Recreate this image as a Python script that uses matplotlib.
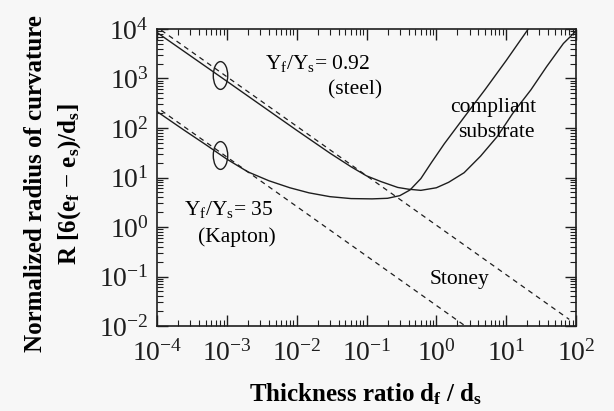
import numpy as np
import matplotlib
matplotlib.use("Agg")
import matplotlib.pyplot as plt
from matplotlib.path import Path
from matplotlib.ticker import LogLocator, NullFormatter

plt.rcParams['font.family'] = 'Liberation Serif'
plt.rcParams['mathtext.fontset'] = 'custom'
plt.rcParams['mathtext.rm'] = 'Liberation Serif'
plt.rcParams['mathtext.it'] = 'Liberation Serif:italic'
plt.rcParams['mathtext.bf'] = 'Liberation Serif:bold'

# thickness ratio d_f/d_s and normalized radius of curvature
steel_h = [1e-4, 1e-3, 1e-2, 3e-2, 6e-2, 0.1, 0.16, 0.28, 0.4, 0.6, 1.0, 1.5,
           2.5, 4.3, 7.5, 12.5, 22.6, 38, 66, 100]
steel_R = [8500, 880, 90, 31, 16.5, 10.8, 8.3, 6.3, 5.8, 5.5, 6.2, 8.0,
           12.5, 27, 68, 200, 590, 1740, 5100, 9100]

kapton_h = [1e-4, 2.4e-4, 5e-4, 1e-3, 2e-3, 4e-3, 8e-3, 1.5e-2, 3e-2, 6e-2, 0.12,
            0.2, 0.3, 0.42, 0.6, 0.85, 1.3, 2.5, 5, 10, 20.5]
kapton_R = [215, 92, 46, 23.5, 13, 8.6, 6.2, 4.9, 4.1, 3.75, 3.7,
            3.8, 4.3, 5.6, 9.5, 20, 48, 165, 600, 2300, 9800]

# Stoney lines (straight in log-log)
stoney_steel_h = [1.15e-4, 80]
stoney_steel_R = [9450, 0.0136]
stoney_kapton_h = [1.15e-4, 2.6]
stoney_kapton_R = [226, 0.0100]

# ellipse markers grouping each pair of curves
ring_h = [8.1e-4, 8.1e-4]
ring_R = [1150, 28]

fig = plt.figure(figsize=(6.14, 4.11), dpi=100, facecolor='#f7f7f7')
ax = fig.add_axes([157 / 614, 1 - 326 / 411, 419 / 614, 297 / 411])
ax.set_facecolor('#f7f7f7')

lc = '#1e1e1e'
ax.plot(steel_h, steel_R, color=lc, lw=1.0)
ax.plot(kapton_h, kapton_R, color=lc, lw=1.0)
ax.plot(stoney_steel_h, stoney_steel_R, color=lc, lw=0.9, ls=(0, (4, 3.5)))
ax.plot(stoney_kapton_h, stoney_kapton_R, color=lc, lw=0.9, ls=(0, (4, 3.5)))

circ = Path.unit_circle()
ell = Path(circ.vertices * np.array([0.52, 1.0]), circ.codes)
ax.plot(ring_h, ring_R, ls='none', marker=ell, markersize=20,
        mfc='none', mec=lc, mew=1.0)

ax.set_xscale('log')
ax.set_yscale('log')
ax.set_xlim(1e-4, 1e2)
ax.set_ylim(1e-2, 1e4)

for a in (ax.xaxis, ax.yaxis):
    a.set_major_locator(LogLocator(base=10, numticks=20))
    a.set_minor_locator(LogLocator(base=10, subs=np.arange(2, 10), numticks=20))
    a.set_minor_formatter(NullFormatter())
ax.tick_params(which='both', direction='in', top=True, right=True,
               colors=lc, labelsize=20)
ax.tick_params(which='major', length=8, width=1.0)
ax.tick_params(which='minor', length=4, width=0.8)
ax.tick_params(axis='x', pad=10)
ax.tick_params(axis='y', pad=6)
for s in ax.spines.values():
    s.set_linewidth(1.2)
    s.set_color(lc)

ts = 15.5
ax.text(3.5e-3, 2.0e3, r'Y$_\mathrm{f}$/Y$_\mathrm{s}$= 0.92', fontsize=ts, ha='left', va='center')
ax.text(0.069, 5.8e2, '(steel)', fontsize=ts, ha='center', va='center')
ax.text(6.6, 2.6e2, 'compliant', fontsize=ts, ha='center', va='center')
ax.text(7.3, 8.0e1, 'substrate', fontsize=ts, ha='center', va='center')
ax.text(2.45e-4, 2.3, r'Y$_\mathrm{f}$/Y$_\mathrm{s}$= 35', fontsize=ts, ha='left', va='center')
ax.text(1.4e-3, 0.62, '(Kapton)', fontsize=ts, ha='center', va='center')
ax.text(2.15, 0.089, 'Stoney', fontsize=ts, ha='center', va='center')

fig.text(366 / 614, 1 - 394 / 411, r'Thickness ratio $\mathbf{d_f}$ / $\mathbf{d_s}$',
         fontsize=18, fontweight='bold', ha='center', va='center')
fig.text(36 / 614, 1 - 184 / 411, 'Normalized radius of curvature', rotation=90,
         fontsize=18, fontweight='bold', ha='center', va='center')
fig.text(70 / 614, 1 - 184 / 411, r'R [6(e$\mathbf{_f}$ $-$ e$\mathbf{_s}$)/d$\mathbf{_s}$]',
         rotation=90, fontsize=18, fontweight='bold', ha='center', va='center')

fig.savefig('out.png', dpi=100, facecolor=fig.get_facecolor())
